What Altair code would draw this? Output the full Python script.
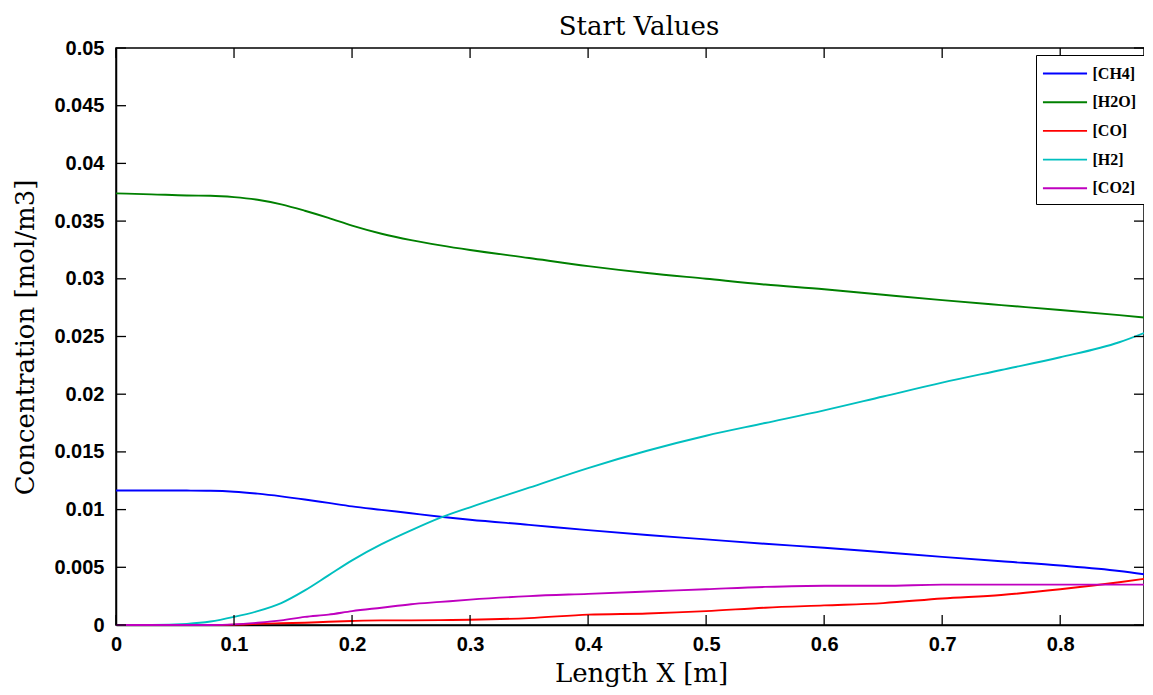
import altair as alt
import pandas as pd

# Sample positions along the reactor [m]
x_pos = [0, 0.03, 0.06, 0.08, 0.1, 0.12, 0.14, 0.16, 0.18, 0.2, 0.225, 0.25, 0.275,
         0.3, 0.35, 0.4, 0.45, 0.5, 0.55, 0.6, 0.65, 0.7, 0.75, 0.8, 0.85, 0.871]

ch4 = [0.01166, 0.01166, 0.01165, 0.01163, 0.01155, 0.01138, 0.01115, 0.01088, 0.01058,
       0.01028, 0.00998, 0.00968, 0.00938, 0.00912, 0.00868, 0.00822, 0.00780, 0.00742,
       0.00704, 0.00670, 0.00630, 0.00590, 0.00552, 0.00515, 0.00468, 0.00440]
h2o = [0.03740, 0.03732, 0.03722, 0.03720, 0.03708, 0.03685, 0.03645, 0.03590, 0.03528,
       0.03460, 0.03390, 0.03335, 0.03290, 0.03250, 0.03180, 0.03110, 0.03050, 0.03000,
       0.02950, 0.02910, 0.02862, 0.02815, 0.02772, 0.02730, 0.02685, 0.02665]
co = [0, 0, 0, 0, 0.00003, 0.0001, 0.00015, 0.0002, 0.00028, 0.00035, 0.0004, 0.0004,
      0.00042, 0.00045, 0.0006, 0.0009, 0.0010, 0.0012, 0.0015, 0.0017, 0.0019, 0.0023,
      0.0026, 0.0031, 0.0037, 0.0040]
h2 = [0, 0, 0.0001, 0.0003, 0.0007, 0.0012, 0.0019, 0.0030, 0.0043, 0.0056, 0.0070, 0.0082,
      0.0093, 0.0102, 0.0119, 0.0136, 0.0151, 0.0164, 0.0175, 0.0186, 0.0198, 0.0210,
      0.0221, 0.0232, 0.0245, 0.0253]
co2 = [0, 0, 0, 0, 0.00005, 0.0002, 0.0004, 0.0007, 0.0009, 0.0012, 0.0015, 0.0018, 0.0020,
       0.0022, 0.0025, 0.0027, 0.0029, 0.0031, 0.0033, 0.0034, 0.0034, 0.0035, 0.0035,
       0.0035, 0.0035, 0.0035]

species = ["[CH4]", "[H2O]", "[CO]", "[H2]", "[CO2]"]
colors = ["#0000ff", "#008000", "#ff0000", "#00bfbf", "#bf00bf"]

x_ticks = [0, 0.1, 0.2, 0.3, 0.4, 0.5, 0.6, 0.7, 0.8]
y_ticks = [0, 0.005, 0.01, 0.015, 0.02, 0.025, 0.03, 0.035, 0.04, 0.045, 0.05]

rows = []
for k, (name, vals) in enumerate(zip(species, [ch4, h2o, co, h2, co2])):
    for xv, yv in zip(x_pos, vals):
        rows.append({"x": xv, "c": yv, "species": name, "k": k})
df = pd.DataFrame(rows)

W, H = 1028, 577
xs = alt.Scale(domain=[0, 0.871], nice=False, zero=False)
ys = alt.Scale(domain=[0, 0.05], nice=False, zero=False)

x_axis = alt.Axis(values=x_ticks, format=".1~f", title="Length X [m]", labelFlush=False,
                  labelPadding=9, titleY=56, titleX=525, titleAlign="center",
                  titleBaseline="alphabetic", titleFontSize=26)
y_axis = alt.Axis(values=y_ticks, format=".3~f", title="Concentration [mol/m3]",
                  labelFlush=False, labelPadding=12, titleX=-104, titleY=289,
                  titleBaseline="top", titleAlign="center", titleFontSize=26)

lines = alt.Chart(df).mark_line(strokeWidth=1.9, interpolate="monotone").encode(
    x=alt.X("x:Q", scale=xs, axis=x_axis),
    y=alt.Y("c:Q", scale=ys, axis=y_axis),
    color=alt.Color("species:N", scale=alt.Scale(domain=species, range=colors),
                    sort=species,
                    legend=alt.Legend(title=None, orient="none", legendX=920, legendY=7,
                                      symbolType="M-2.1,0H2.1", symbolSize=441,
                                      symbolOffset=10.5, symbolStrokeWidth=1.9,
                                      labelFont="Liberation Serif",
                                      labelFontSize=16, labelFontWeight="bold",
                                      labelColor="black", strokeColor="black",
                                      fillColor="white", padding=7, rowPadding=8.7,
                                      labelOffset=16)),
    detail="k:O",
)

xt = pd.DataFrame({"t": x_ticks})
yt = pd.DataFrame({"t": y_ticks})
tick_style = dict(color="black", strokeWidth=1.3)

x_bot = alt.Chart(xt).mark_rule(**tick_style).encode(
    x=alt.X("t:Q", scale=xs, axis=x_axis), y=alt.value(H), y2=alt.value(H - 10))
x_top = alt.Chart(xt).mark_rule(**tick_style).encode(
    x=alt.X("t:Q", scale=xs, axis=x_axis), y=alt.value(0), y2=alt.value(10))
y_left = alt.Chart(yt).mark_rule(**tick_style).encode(
    y=alt.Y("t:Q", scale=ys, axis=y_axis), x=alt.value(0), x2=alt.value(10))
y_right = alt.Chart(yt).mark_rule(**tick_style).encode(
    y=alt.Y("t:Q", scale=ys, axis=y_axis), x=alt.value(W), x2=alt.value(W - 10))

chart = alt.layer(lines, x_bot, x_top, y_left, y_right).properties(
    width=W, height=H,
    title=alt.Title("Start Values", font="DejaVu Serif", fontSize=26, fontWeight="normal",
                    color="black", offset=9, dx=9, dy=11, anchor="middle",
                    frame="group"),
    padding={"left": 108, "top": 40, "right": 0, "bottom": 62},
    autosize=alt.AutoSizeParams(type="none"),
    background="white",
).configure_view(
    stroke="black", strokeWidth=1.5
).configure_axis(
    domainColor="black", domainWidth=1.5, grid=False, ticks=False, tickSize=0,
    labelFont="Liberation Sans", labelFontWeight="bold", labelFontSize=20,
    labelColor="black", titleFont="DejaVu Serif",
    titleFontWeight="normal", titleColor="black"
)

chart.save("out.html", embed_options={"renderer": "svg", "actions": False})
